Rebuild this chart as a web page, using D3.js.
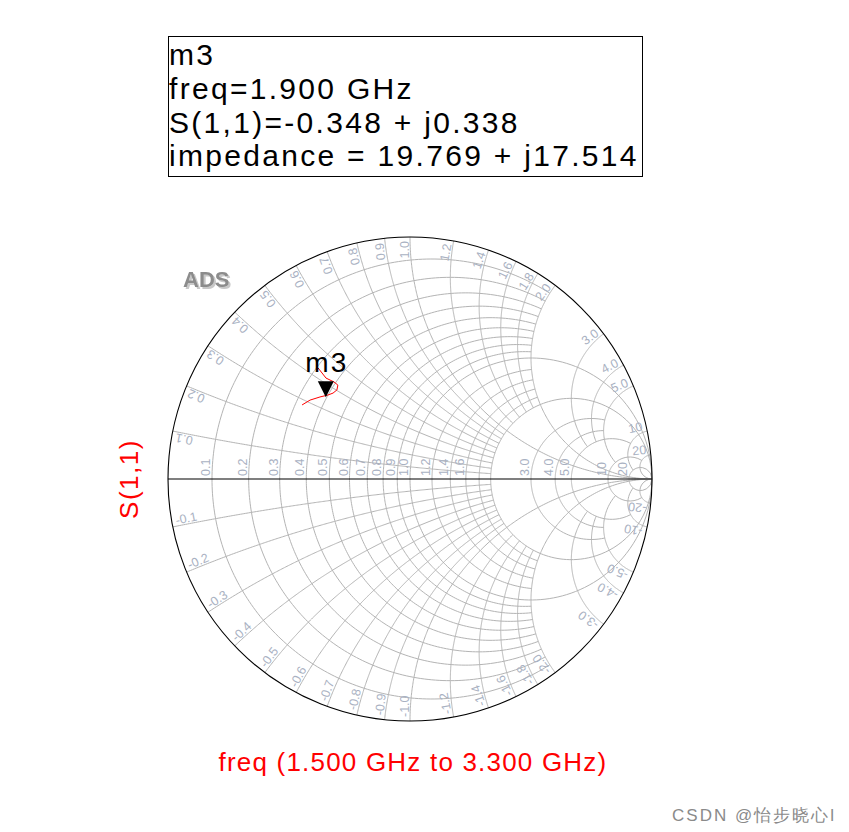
<!DOCTYPE html>
<html lang="en">
<head>
<meta charset="UTF-8">
<script src="https://d3js.org/d3.v7.min.js"></script>
<title>Smith chart</title>
<style>
    body { margin: 0; background: #fff; }
    text { font-family: "Liberation Sans", Arial, sans-serif; }
</style>
</head>
<body>
<script>
    // grid circles (value, and how far along the other coordinate each is drawn)
    const rCircles = [0.1, 0.2, 0.3, 0.4, 0.5, 0.6, 0.7, 0.8, 0.9, 1.0, 1.2, 1.4, 1.6, 1.8, 2.0, 3.0, 4.0, 5.0, 10, 20]
    const rLimits = [2, 2, 2, 2, 2, 2, 2, 2, 2, Infinity, 2, 2, 2, 2, Infinity, 5, 5, 10, 20, Infinity]
    const xArcs = [0.1, 0.2, 0.3, 0.4, 0.5, 0.6, 0.7, 0.8, 0.9, 1.0, 1.2, 1.4, 1.6, 1.8, 2.0, 3.0, 4.0, 5.0, 10, 20]
    const xLimits = [2, 2, 2, 2, 2, 2, 2, 2, 2, Infinity, 2, 2, 2, 2, Infinity, 5, 5, 10, 20, Infinity]
    const rLabels = [0.1, 0.2, 0.3, 0.4, 0.5, 0.6, 0.7, 0.8, 0.9, 1.0, 1.2, 1.4, 1.6, 3.0, 4.0, 5.0, 10, 20]
    const xLabels = [0.1, 0.2, 0.3, 0.4, 0.5, 0.6, 0.7, 0.8, 0.9, 1.0, 1.2, 1.4, 1.6, 1.8, 2.0, 3.0, 4.0, 5.0, 10, 20]

    // S(1,1) trace, 1.5 GHz .. 3.3 GHz (reflection coefficient)
    const traceRe = [-0.446, -0.413, -0.372, -0.339, -0.318, -0.302, -0.298, -0.314, -0.347, -0.380]
    const traceIm = [0.306, 0.326, 0.339, 0.347, 0.355, 0.368, 0.388, 0.401, 0.417, 0.459]

    const markerName = "m3"
    const markerRe = -0.348
    const markerIm = 0.338
    const markerLines = ["m3", "freq=1.900 GHz", "S(1,1)=-0.348 + j0.338", "impedance = 19.769 + j17.514"]

    const width = 849, height = 832
    const cx = 410, cy = 479, R = 242
    const gridColor = "#b4b4b4"
    const labelColor = "#a9b1c2"

    const svg = d3.select("body").append("svg")
        .attr("width", width)
        .attr("height", height)

    const defs = svg.append("defs")
    const shadow = defs.append("filter").attr("id", "shade")
        .attr("x", "-20%").attr("y", "-20%").attr("width", "150%").attr("height", "150%")
    shadow.append("feDropShadow")
        .attr("dx", 2).attr("dy", 2).attr("stdDeviation", 0.6)
        .attr("flood-color", "#c8c8c8")

    const gx = d3.scaleLinear().domain([-1, 1]).range([cx - R, cx + R])
    const gy = d3.scaleLinear().domain([-1, 1]).range([cy + R, cy - R])

    // z = r + jx  ->  gamma = (z-1)/(z+1)
    function gamma(r, x) {
        const a = r + 1, b = r - 1
        const den = a * a + x * x
        return [(b * a + x * x) / den, (x * a - b * x) / den]
    }

    const line = d3.line()
        .x(function (d) { return gx(d[0]) })
        .y(function (d) { return gy(d[1]) })

    const N = 240
    const grid = svg.append("g")
        .attr("fill", "none")
        .attr("stroke", gridColor)
        .attr("stroke-width", 1)

    // resistance circles
    rCircles.forEach(function (r, i) {
        const tMax = Math.atan(rLimits[i])
        const pts = d3.range(N + 1).map(function (k) {
            const t = -tMax + 2 * tMax * k / N
            return gamma(r, Math.tan(t))
        })
        grid.append("path").attr("d", line(pts))
    })

    // reactance arcs (both signs)
    xArcs.forEach(function (x, i) {
        const tMax = Math.atan(xLimits[i])
        const pts = d3.range(N + 1).map(function (k) {
            return gamma(Math.tan(tMax * k / N), x)
        })
        grid.append("path").attr("d", line(pts))
        grid.append("path").attr("d", line(pts.map(function (p) { return [p[0], -p[1]] })))
    })

    // outer circle and real axis
    svg.append("circle")
        .attr("cx", gx(0)).attr("cy", gy(0))
        .attr("r", gx(1) - gx(0))
        .attr("fill", "none").attr("stroke", "#000").attr("stroke-width", 1.1)
    svg.append("line")
        .attr("x1", gx(-1)).attr("x2", gx(1))
        .attr("y1", gy(0)).attr("y2", gy(0))
        .attr("stroke", "#000").attr("stroke-width", 1.1)

    function fmt(v) { return v < 10 ? v.toFixed(1) : String(v) }

    // resistance labels along the real axis
    svg.append("g").selectAll("text")
        .data(rLabels)
        .join("text")
        .attr("transform", function (r) {
            return "translate(" + (gx((r - 1) / (r + 1)) - 2) + "," + (gy(0) - 3) + ") rotate(-90)"
        })
        .attr("font-size", 12.5)
        .attr("fill", labelColor)
        .text(fmt)

    // reactance labels around the rim
    const rimLabels = xLabels.map(function (x) { return { v: x, s: fmt(x) } })
        .concat(xLabels.map(function (x) { return { v: -x, s: "-" + fmt(x) } }))
    svg.append("g").selectAll("text")
        .data(rimLabels)
        .join("text")
        .attr("transform", function (d) {
            const g = gamma(0, d.v)
            const th = Math.atan2(g[1], g[0])
            const px = gx(0) + (R - 4) * Math.cos(th)
            const py = gy(0) - (R - 4) * Math.sin(th)
            const deg = th * 180 / Math.PI
            const rot = d.v > 0 ? -deg : -(deg + 180)
            return "translate(" + px + "," + py + ") rotate(" + rot + ")"
        })
        .attr("text-anchor", function (d) { return d.v > 0 ? "end" : "start" })
        .attr("dy", -1.5)
        .attr("font-size", 12.5)
        .attr("fill", labelColor)
        .text(function (d) { return d.s })

    // ADS logo
    svg.append("text").attr("x", 183).attr("y", 287)
        .attr("font-size", 22).attr("font-weight", "bold").attr("fill", "#8c8c8c")
        .attr("filter", "url(#shade)")
        .text("ADS")

    // trace
    svg.append("path")
        .attr("d", line(traceRe.map(function (v, i) { return [v, traceIm[i]] })))
        .attr("fill", "none").attr("stroke", "#ff0000").attr("stroke-width", 1)

    // marker
    const mx = gx(markerRe), my = gy(markerIm)
    svg.append("path")
        .attr("d", "M" + mx + "," + my + "L" + (mx - 8) + "," + (my - 16) + "L" + (mx + 8) + "," + (my - 16) + "Z")
        .attr("fill", "#000")
    svg.append("text")
        .attr("x", mx + 1).attr("y", my - 25)
        .attr("text-anchor", "middle")
        .attr("font-size", 28).attr("letter-spacing", 2)
        .text(markerName)

    // marker readout box
    svg.append("rect")
        .attr("x", 168.5).attr("y", 36.5).attr("width", 474).attr("height", 140)
        .attr("fill", "#fff").attr("stroke", "#000").attr("stroke-width", 1)
    svg.append("g").selectAll("text")
        .data(markerLines)
        .join("text")
        .attr("x", 169)
        .attr("y", function (d, i) { return 65 + i * 33.8 })
        .attr("font-size", 30)
        .attr("letter-spacing", 2.3)
        .text(function (d) { return d })

    // axis titles
    svg.append("text")
        .attr("transform", "translate(138," + gy(0) + ") rotate(-90)")
        .attr("text-anchor", "middle")
        .attr("font-size", 26).attr("letter-spacing", 1.5)
        .attr("fill", "#ff0000")
        .text("S(1,1)")
    svg.append("text")
        .attr("x", 413).attr("y", 771)
        .attr("text-anchor", "middle")
        .attr("font-size", 26).attr("letter-spacing", 1.2)
        .attr("fill", "#ff0000")
        .text("freq (1.500 GHz to 3.300 GHz)")

    // watermark
    svg.append("text")
        .attr("x", 836).attr("y", 821)
        .attr("text-anchor", "end")
        .attr("font-size", 17)
        .attr("letter-spacing", 2)
        .attr("fill", "#8a8a8a")
        .attr("font-family", "'Noto Sans CJK SC', sans-serif")
        .text("CSDN @怡步晓心l")
</script>
</body>
</html>
